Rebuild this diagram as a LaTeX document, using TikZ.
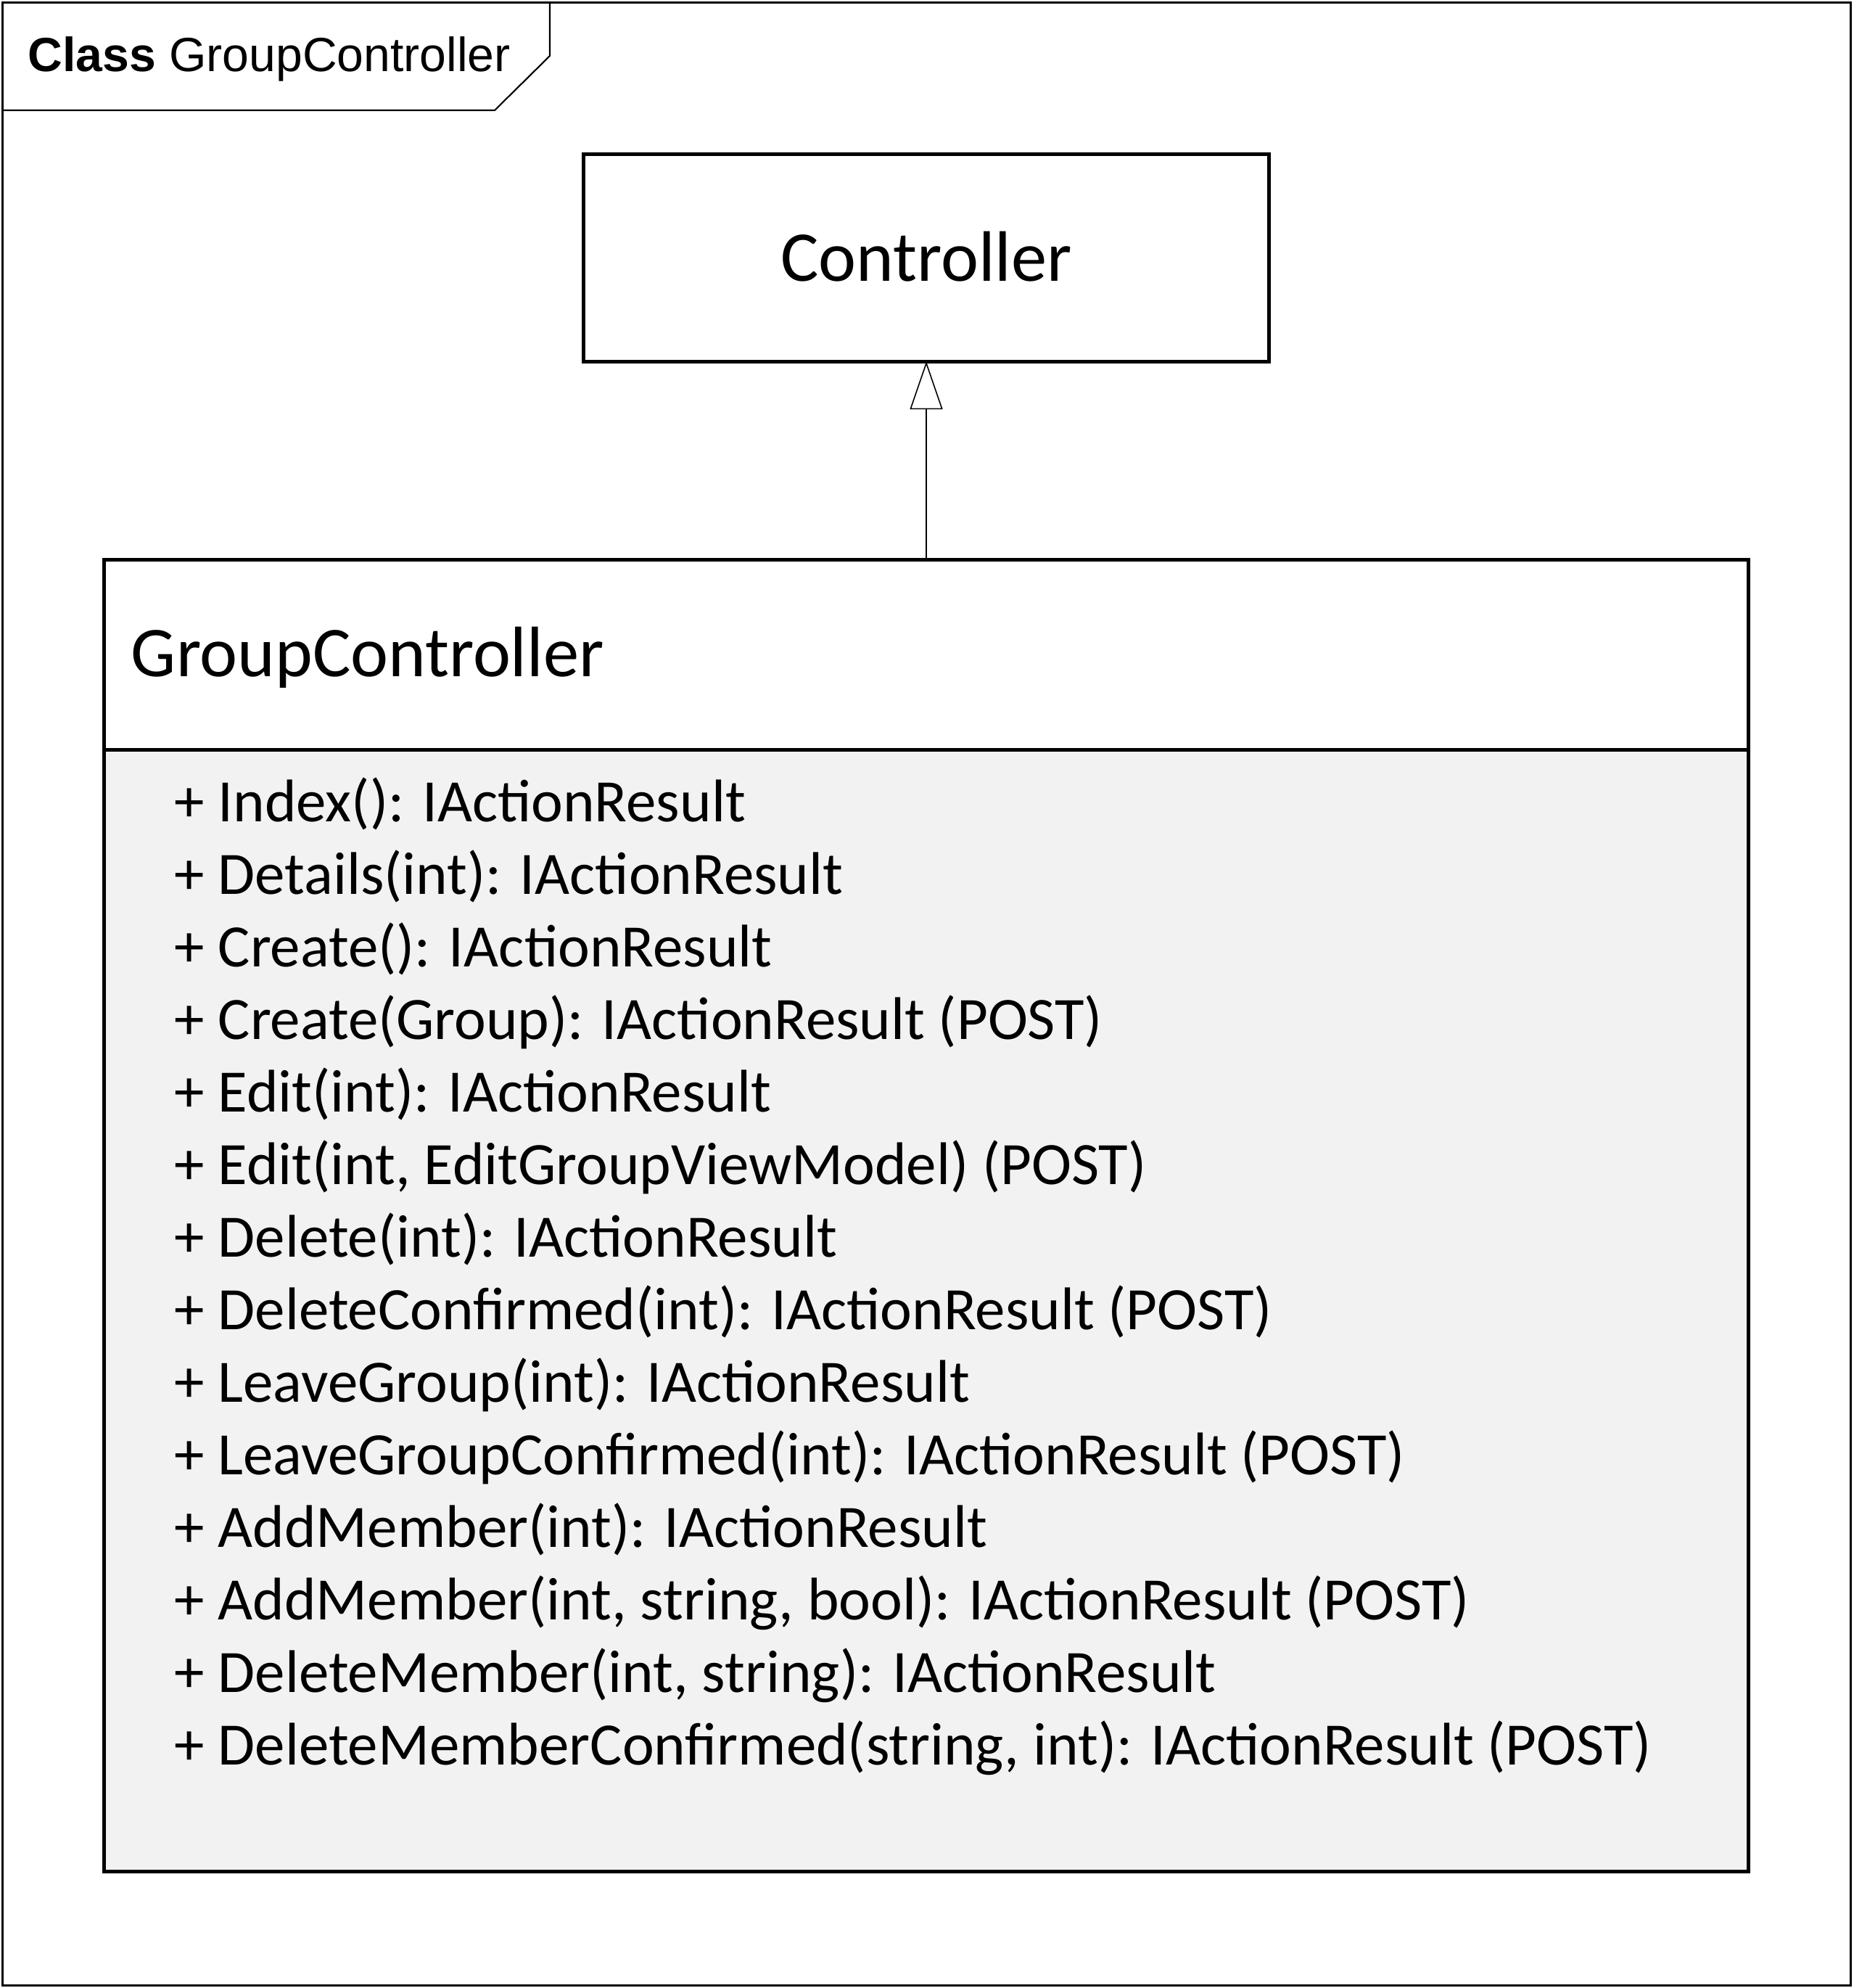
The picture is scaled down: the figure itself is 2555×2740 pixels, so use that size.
\documentclass[tikz,border=0pt]{standalone}
\usepackage{fontspec}
\setmainfont{Carlito}
\newfontfamily\framefont{Liberation Sans}
\usepackage{tikz}
\usetikzlibrary{arrows.meta,positioning}
\definecolor{umlBody}{RGB}{242,242,242}

\begin{document}
\begin{tikzpicture}[x=0.01cm, y=-0.01cm]
\tikzstyle{frameline}=[line width=0.6pt]
\tikzstyle{classbox}=[draw, line width=1.4pt, outer sep=0pt, inner sep=0pt, font=\fontsize{28pt}{34pt}\selectfont]
\tikzstyle{member}=[anchor=base west, inner sep=0pt, font=\fontsize{23.6pt}{28pt}\selectfont]

\useasboundingbox (0,0) rectangle (2555,2740);

% diagram frame and its tab
\draw[frameline] (3.5,3.5) rectangle (2551.5,2736.5);
\draw[frameline] (3.5,152) -- (682,152) -- (758,77) -- (758,3.5);
\node[anchor=base west, inner sep=0pt, font=\framefont\fontsize{18.8pt}{22pt}\selectfont] (title) at (38,99) {\textbf{Class} GroupController};

% classes
\node[classbox, minimum width=9.45cm, minimum height=2.85cm, text height=0.63cm, text depth=0pt] (controller) at (1277,355.5) {Controller};
\node[classbox, below=2.73cm of controller, minimum width=22.65cm, minimum height=2.62cm,
      inner xsep=0.37cm, text width=21.91cm, text depth=0.09cm, align=left] (gcname) {GroupController};
\node[classbox, fill=umlBody, below=0cm of gcname, minimum width=22.65cm, minimum height=15.45cm] (gcbody) {};

\foreach \i/\op in {1/{Index(): IActionResult},
                    2/{Details(int): IActionResult},
                    3/{Create(): IActionResult},
                    4/{Create(Group): IActionResult (POST)},
                    5/{Edit(int): IActionResult},
                    6/{Edit(int, EditGroupViewModel) (POST)},
                    7/{Delete(int): IActionResult},
                    8/{DeleteConfirmed(int): IActionResult (POST)},
                    9/{LeaveGroup(int): IActionResult},
                    10/{LeaveGroupConfirmed(int): IActionResult (POST)},
                    11/{AddMember(int): IActionResult},
                    12/{AddMember(int, string, bool): IActionResult (POST)},
                    13/{DeleteMember(int, string): IActionResult},
                    14/{DeleteMemberConfirmed(string, int): IActionResult (POST)}}
  \node[member] (op\i) at (240,1032+\i*100) {+ \op};

% generalization
\draw[-{Triangle[open, length=0.66cm, width=0.45cm]}, line width=0.45pt] (gcname.north) -- (controller.south);
\end{tikzpicture}
\end{document}
